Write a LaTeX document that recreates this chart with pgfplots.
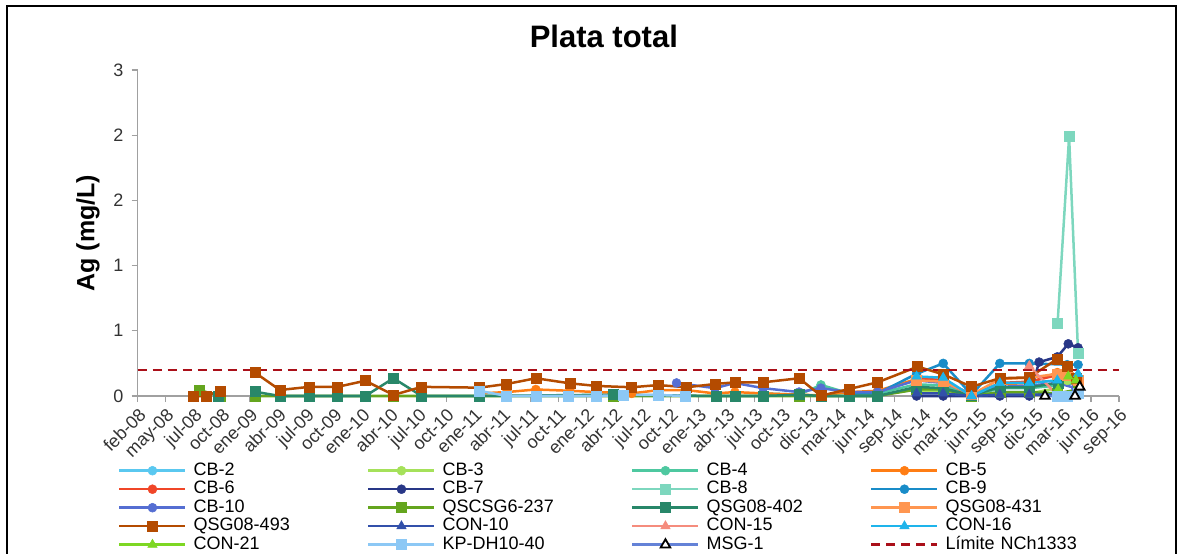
\documentclass[border=0pt]{standalone}
\usepackage{pgfplots}
\pgfplotsset{compat=1.18}
\usepackage{fontspec}
\setmainfont{Liberation Sans}
\definecolor{cbtwo}{RGB}{90,200,240}
\definecolor{cbthree}{RGB}{165,225,90}
\definecolor{cbfour}{RGB}{78,200,160}
\definecolor{cbfive}{RGB}{255,125,20}
\definecolor{cbsix}{RGB}{240,70,40}
\definecolor{cbseven}{RGB}{40,55,135}
\definecolor{cbeight}{RGB}{125,215,190}
\definecolor{cbnine}{RGB}{25,140,200}
\definecolor{cbten}{RGB}{85,110,210}
\definecolor{qscs}{RGB}{100,165,30}
\definecolor{qfourohtwo}{RGB}{40,135,105}
\definecolor{qfourthirtyone}{RGB}{255,150,80}
\definecolor{qfourninetythree}{RGB}{180,75,0}
\definecolor{conten}{RGB}{50,80,170}
\definecolor{confifteen}{RGB}{245,140,125}
\definecolor{consixteen}{RGB}{30,180,235}
\definecolor{contwentyone}{RGB}{125,215,35}
\definecolor{kpdh}{RGB}{140,200,245}
\definecolor{msgone}{RGB}{100,130,215}
\definecolor{limitc}{RGB}{170,15,25}
\definecolor{axisgray}{RGB}{160,160,160}
\begin{document}
\begin{tikzpicture}
\useasboundingbox (0bp,0bp) rectangle (1181bp,554bp);
\draw[line width=1.3bp] (7bp,0bp) -- (7bp,548bp) -- (1176bp,548bp) -- (1176bp,0bp);
\begin{axis}[
  at={(137.7bp,158bp)}, anchor=south west,
  scale only axis, width=981.3bp, height=326bp,
  xmin=0, xmax=35, ymin=0, ymax=2.5,
  axis x line*=bottom, axis y line*=left,
  axis line style={draw=axisgray, line width=1.3bp},
  tick align=outside, major tick length=6bp,
  tick style={draw=axisgray, line width=1.1bp},
  xtick={0,1,...,35},
  xticklabels={feb-08,may-08,jul-08,oct-08,ene-09,abr-09,jul-09,oct-09,ene-10,abr-10,jul-10,oct-10,ene-11,abr-11,jul-11,oct-11,ene-12,abr-12,jul-12,oct-12,ene-13,abr-13,jul-13,oct-13,dic-13,mar-14,jun-14,sep-14,dic-14,mar-15,jun-15,sep-15,dic-15,mar-16,jun-16,sep-16},
  ytick={0,0.5,1,1.5,2,2.5},
  yticklabels={0,1,1,2,2,3},
  /pgf/number format/assume math mode=true,
  ticklabel style={font=\fontsize{18bp}{20bp}\selectfont, text=black!80},
  xticklabel style={rotate=45, anchor=north east, inner sep=3.5bp},
  yticklabel style={inner sep=2bp, xshift=-6bp},
  title={Plata total},
  title style={font=\fontsize{31bp}{36bp}\selectfont\bfseries, at={(axis description cs:0.475,1)}, anchor=center, yshift=28bp},
  ylabel={Ag (mg/L)},
  ylabel style={font=\fontsize{25bp}{28bp}\selectfont\bfseries, at={(axis description cs:-0.0506,0.5)}, anchor=center},
  unbounded coords=jump,
  clip=false,
  every axis plot/.append style={line width=2.5bp},
  legend columns=4,
  legend image code/.code={\draw[mark repeat=2,mark phase=2,#1] plot coordinates {(0bp,0bp) (33bp,0bp) (66bp,0bp)};},
  legend style={draw=none, fill=none, at={(axis description cs:-0.0231,-0.1987)}, anchor=north west,
    font=\fontsize{18bp}{20bp}\selectfont, row sep=3bp,
    nodes={inner sep=0pt, text height=12.5bp, text depth=3bp, align=left},
    /tikz/every odd column/.append style={column sep=7bp},
    /tikz/every even column/.append style={column sep=0bp},
    /tikz/column 2/.append style={text width=173.5bp},
    /tikz/column 4/.append style={text width=188.5bp},
    /tikz/column 6/.append style={text width=163.5bp},
    /tikz/column 8/.append style={text width=163.5bp}},
  legend cell align=left,
]
% CB-2
\addplot[color=cbtwo, mark=*, mark size=4.5bp, mark options={solid,line width=0.5bp}] coordinates {
(25.38,0.01) (26.39,0.01) (27.78,0.05) (28.73,0.04) (29.74,0) (30.75,0.03) (31.80,0.03) (32.80,0.02) (33.54,0.02)};
\addlegendentry{CB-2}
% CB-3
\addplot[color=cbthree, mark=*, mark size=4.5bp, mark options={solid,line width=0.5bp}] coordinates {
(27.78,0.04) (28.73,0.03) (29.74,0) (30.75,0.02) (31.80,0.02) (32.80,0.06) (33.15,0.12) (33.54,0.08)};
\addlegendentry{CB-3}
% CB-4
\addplot[color=cbfour, mark=*, mark size=4.5bp, mark options={solid,line width=0.5bp}] coordinates {
(22.31,0.02) (23.59,0.01) (24.37,0.085) (25.38,0.02) (26.39,0.02) (27.78,0.09) (28.73,0.08) (29.74,0) (30.75,0.06) (31.80,0.06) (32.80,0.08) (33.54,0.1)};
\addlegendentry{CB-4}
% CB-5
\addplot[color=cbfive, mark=*, mark size=4.5bp, mark options={solid,line width=0.5bp}] coordinates {
(12.18,0.02) (13.16,0.03) (14.20,0.05) (15.42,0.04) (16.37,0.03) (17.62,0.02) (18.57,0.045) (19.58,0.045) (20.59,0.02) (21.30,0.03) (22.31,0.02) (23.59,0.01) (24.37,0.005) (25.38,0.03) (26.39,0.04) (27.78,0.13) (28.73,0.12) (29.74,0.01) (30.75,0.09) (31.80,0.10) (32.80,0.18) (33.15,0.17) (33.46,0.10)};
\addlegendentry{CB-5}
% CB-6
\addplot[color=cbsix, mark=*, mark size=4.5bp, mark options={solid,line width=0.5bp}] coordinates {
(27.78,0.14) (28.73,0.12) (29.74,0) (30.75,0.10) (31.80,0.11) (32.80,0.16) (33.54,0.12)};
\addlegendentry{CB-6}
% CB-7
\addplot[color=cbseven, mark=*, mark size=4.5bp, mark options={solid,line width=0.5bp}] coordinates {
(27.78,0) (28.73,0) (29.74,0) (30.75,0) (31.80,0) (32.15,0.26) (32.80,0.30) (33.19,0.40) (33.54,0.37)};
\addlegendentry{CB-7}
% CB-8
\addplot[color=cbeight, mark=square*, mark size=5bp, mark options={solid,line width=0.5bp}] coordinates {
(32.81,0.56) (33.22,1.99) (33.54,0.33)};
\addlegendentry{CB-8}
% CB-9
\addplot[color=cbnine, mark=*, mark size=4.5bp, mark options={solid,line width=0.5bp}] coordinates {
(25.38,0.01) (26.39,0.02) (27.78,0.17) (28.73,0.25) (29.74,0.01) (30.75,0.25) (31.80,0.25) (33.15,0.24) (33.54,0.24)};
\addlegendentry{CB-9}
% CB-10
\addplot[color=cbten, mark=*, mark size=4.5bp, mark options={solid,line width=0.5bp}] coordinates {
(19.22,0.10) (20.59,0.06) (21.30,0.10) (22.31,0.06) (23.59,0.03) (24.37,0.06) (25.38,0.03) (26.39,0.03) (27.78,0.12) (28.73,0.10) (29.74,0.02) (30.75,0.07) (31.80,0.08) (32.80,0.10) (33.46,0.06)};
\addlegendentry{CB-10}
% QSCSG6-237
\addplot[color=qscs, mark=square*, mark size=5bp, mark options={solid,line width=0.5bp}] coordinates {
(2.20,0.046) (2.93,0) (3.5,nan) (4.18,0) (5.07,0) (6.12,0) (7.12,0) (8.12,0) (9.12,0) (10.13,0) (12.18,0) (16.96,0) (20.63,0) (21.30,0) (22.31,0) (23.59,0) (24.37,0) (25.38,0) (26.39,0) (27.78,0.05) (28.73,0.05) (29.74,0) (30.75,0.03) (31.80,0.03) (32.80,0.02) (33.54,0.05)};
\addlegendentry{QSCSG6-237}
% QSG08-402
\addplot[color=qfourohtwo, mark=square*, mark size=5bp, mark options={solid,line width=0.5bp}] coordinates {
(2.87,0) (3.5,nan) (4.18,0.033) (5.07,0) (6.12,0) (7.12,0) (8.12,0) (9.12,0.136) (10.13,0) (12.18,0) (16.96,0.01) (20.63,0) (21.30,0) (22.31,0) (23.59,0.01) (24.37,0) (25.38,0) (26.39,0) (27.78,0.07) (28.73,0.06) (29.74,0.005) (30.75,0.067) (31.80,0.067) (32.83,0.10)};
\addlegendentry{QSG08-402}
% QSG08-431
\addplot[color=qfourthirtyone, mark=square*, mark size=5bp, mark options={solid,line width=0.5bp}] coordinates {
(27.78,0.12) (28.73,0.11) (29.74,0.01) (30.75,0.13) (31.80,0.14) (32.80,0.17) (33.15,0.16) (33.54,0.12)};
\addlegendentry{QSG08-431}
% QSG08-493
\addplot[color=qfourninetythree, mark=square*, mark size=5bp, mark options={solid,line width=0.5bp}] coordinates {
(1.98,0) (2.43,0) (2.93,0.04) (3.5,nan) (4.18,0.18) (5.07,0.046) (6.12,0.07) (7.12,0.07) (8.12,0.117) (9.12,0.008) (10.13,0.07) (12.18,0.064) (13.16,0.092) (14.20,0.136) (15.42,0.097) (16.37,0.077) (17.62,0.067) (18.57,0.084) (19.58,0.067) (20.59,0.092) (21.30,0.105) (22.31,0.105) (23.59,0.136) (24.37,0.002) (25.38,0.054) (26.39,0.105) (27.82,0.225) (28.73,0.166) (29.74,0.071) (30.75,0.136) (31.80,0.143) (32.80,0.284) (33.15,0.23) (33.46,0.138)};
\addlegendentry{QSG08-493}
% CON-10
\addplot[color=conten, mark=triangle*, mark size=5.5bp, mark options={solid,line width=0.5bp}] coordinates {
(27.78,0.02) (28.73,0.02) (29.74,0) (30.75,0.01) (31.80,0.01) (32.80,0.01) (33.54,0.02)};
\addlegendentry{CON-10}
% CON-15
\addplot[color=confifteen, mark=triangle*, mark size=5.5bp, mark options={solid,line width=0.5bp}] coordinates {
(31.80,0.23) (32.83,0)};
\addlegendentry{CON-15}
% CON-16
\addplot[color=consixteen, mark=triangle*, mark size=5.5bp, mark options={solid,line width=0.5bp}] coordinates {
(27.78,0.15) (28.73,0.14) (29.74,0) (30.75,0.10) (31.80,0.10) (32.80,0.12) (33.54,0.17)};
\addlegendentry{CON-16}
% CON-21
\addplot[color=contwentyone, mark=triangle*, mark size=5.5bp, mark options={solid,line width=0.5bp}] coordinates {
(32.83,0.05) (33.19,0.15) (33.46,0.12)};
\addlegendentry{CON-21}
% KP-DH10-40
\addplot[color=kpdh, mark=square*, mark size=5bp, mark options={solid,line width=0.5bp}] coordinates {
(12.18,0.04) (13.16,0) (14.20,0) (15.36,0) (16.37,0) (17.32,0.008) (18.57,0.008) (19.52,0) (20,nan) (32.80,0) (33.15,0) (33.54,0.02)};
\addlegendentry{KP-DH10-40}
% MSG-1
\addplot[color=msgone, mark=triangle*, mark size=5.5bp, mark options={solid,draw=black,fill=white,line width=1.8bp}] coordinates {
(32.36,0) (33.43,0) (33.60,0.07)};
\addlegendentry{MSG-1}
% Limit
\addplot[color=limitc, dashed, dash pattern=on 9bp off 6bp, line width=2.5bp] coordinates {(0,0.2) (35,0.2)};
\addlegendentry{Límite NCh1333}
\end{axis}
\end{tikzpicture}
\end{document}
